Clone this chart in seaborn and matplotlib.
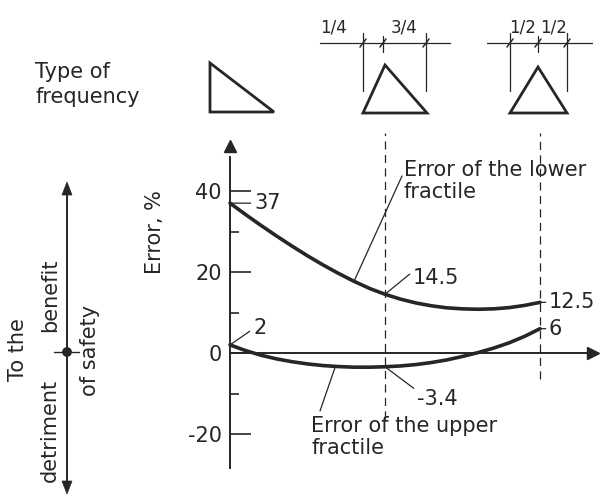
import numpy as np
import pandas as pd
import matplotlib
matplotlib.use("Agg")
import matplotlib.pyplot as plt
import seaborn as sns
from matplotlib.transforms import Affine2D
from matplotlib.patches import Polygon, Circle
from matplotlib.lines import Line2D

# Position of the mode of the frequency distribution (fraction of the base width)
mode_pos = [0.000, 0.025, 0.050, 0.075, 0.100, 0.125, 0.150, 0.175, 0.200, 0.225,
            0.250, 0.275, 0.300, 0.325, 0.350, 0.375, 0.400, 0.425, 0.450, 0.475, 0.500]
# Error of the lower fractile, %
err_lower = [37.0, 34.2, 31.5, 28.9, 26.4, 24.0, 21.75, 19.65, 17.7, 15.95,
             14.5, 13.3, 12.35, 11.65, 11.15, 10.9, 10.8, 10.9, 11.2, 11.75, 12.5]
# Error of the upper fractile, %
err_upper = [2.0, 0.6, -0.55, -1.45, -2.15, -2.7, -3.1, -3.35, -3.5, -3.5,
             -3.4, -3.2, -2.85, -2.35, -1.7, -0.85, 0.1, 1.2, 2.5, 4.1, 6.0]

y_major = [-20, 0, 20, 40]
y_minor = [-10, 10, 30]
marked_x = [0.25, 0.5]

INK = "#262626"
W, H = 601, 496

sns.set_theme(style="white")
plt.rcParams["font.family"] = ["DejaVu Sans"]
plt.rcParams["text.color"] = INK

fig = plt.figure(figsize=(W / 100, H / 100), dpi=100)
ax = fig.add_axes([0, 0, 1, 1])
ax.set_facecolor("white")
# pixel frame (origin top-left) for the annotation sketches around the plot
pix = Affine2D().scale(1 / W, -1 / H).translate(0, 1) + fig.transFigure

ax.set_xlim(-0.371, 0.5984)
ax.set_ylim((353 - H) / 4.05, 353 / 4.05)

df = pd.concat([
    pd.DataFrame({"mode": mode_pos, "error": err_lower, "fractile": "lower"}),
    pd.DataFrame({"mode": mode_pos, "error": err_upper, "fractile": "upper"}),
])
sns.lineplot(data=df, x="mode", y="error", hue="fractile",
             palette=[INK, INK], linewidth=2.6, legend=False, ax=ax,
             solid_capstyle="round", solid_joinstyle="round")
ax.set_xlabel("")

# axes through the origin
for s in ["top", "right"]:
    ax.spines[s].set_visible(False)
ax.spines["left"].set_position(("data", 0))
ax.spines["bottom"].set_position(("data", 0))
ax.spines["left"].set_bounds(-28.5, 48.5)
ax.spines["bottom"].set_bounds(0, 0.58)
for s in ["left", "bottom"]:
    ax.spines[s].set_color(INK)
    ax.spines[s].set_linewidth(1.4)
ax.plot([0], [51.0], marker="^", ms=9, color=INK, clip_on=False)
ax.plot([0.585], [0], marker=">", ms=9, color=INK, clip_on=False)

fs = 15
ax.set_xticks([])
ax.set_yticks(y_major)
ax.set_yticklabels([str(v) for v in y_major])
ax.set_yticks(y_minor, minor=True)
ax.tick_params(axis="y", which="major", direction="in", length=15, width=1.2,
               color=INK, labelsize=fs, labelcolor=INK, pad=6, left=True)
ax.tick_params(axis="y", which="minor", direction="in", length=6.5, width=1.2,
               color=INK, left=True)
ax.set_ylabel("Error, %", fontsize=fs, color=INK)
ax.yaxis.set_label_coords(165, 232, transform=pix)

# dashed guides at the marked distribution shapes
ax.vlines(marked_x[0], -16.3, 54.3, colors=INK, lw=0.9, linestyles=(0, (6.5, 4.3)))
ax.vlines(marked_x[1], -6.3, 54.3, colors=INK, lw=0.9, linestyles=(0, (6.5, 4.3)))

lead = dict(arrowstyle="-", lw=0.9, color=INK, shrinkA=0, shrinkB=0)

# value labels
ax.annotate("37", xy=(mode_pos[0], err_lower[0]), xytext=(24, 0),
            textcoords="offset pixels", ha="left", va="center", fontsize=fs,
            arrowprops=dict(lead, relpos=(0, 0.5)))
ax.annotate("14.5", xy=(mode_pos[10], err_lower[10]), xytext=(28, 16),
            textcoords="offset pixels", ha="left", va="center", fontsize=fs,
            arrowprops=dict(lead, relpos=(-0.05, 0.75)))
ax.annotate("12.5", xy=(mode_pos[-1], err_lower[-1]), xytext=(9, 0),
            textcoords="offset pixels", ha="left", va="center", fontsize=fs,
            arrowprops=dict(lead, relpos=(0, 0.5)))
ax.annotate("2", xy=(mode_pos[0], err_upper[0]), xytext=(23, 17),
            textcoords="offset pixels", ha="left", va="center", fontsize=fs,
            arrowprops=dict(lead, relpos=(-0.1, 0.4)))
ax.annotate("-3.4", xy=(mode_pos[10], err_upper[10]), xytext=(32, -32),
            textcoords="offset pixels", ha="left", va="center", fontsize=fs,
            arrowprops=dict(lead, relpos=(0, 0.9)))
ax.annotate("6", xy=(mode_pos[-1], err_upper[-1]), xytext=(9, 0),
            textcoords="offset pixels", ha="left", va="center", fontsize=fs,
            arrowprops=dict(lead, relpos=(0, 0.5)))

# curve names with leaders
t_lo = 0.20
ax.annotate("", xy=(t_lo, np.interp(t_lo, mode_pos, err_lower)), xytext=(402, 176),
            textcoords=pix, arrowprops=lead)
fig.text(404, 170, "Error of the lower", transform=pix, ha="left", va="center", fontsize=fs)
fig.text(404, 192, "fractile", transform=pix, ha="left", va="center", fontsize=fs)

t_up = 0.17
ax.annotate("", xy=(t_up, np.interp(t_up, mode_pos, err_upper)), xytext=(320, 411),
            textcoords=pix, arrowprops=lead)
fig.text(311, 426, "Error of the upper", transform=pix, ha="left", va="center", fontsize=fs)
fig.text(311, 448, "fractile", transform=pix, ha="left", va="center", fontsize=fs)

# header: type of frequency distribution
fig.text(35, 72, "Type of", transform=pix, ha="left", va="center", fontsize=fs)
fig.text(35, 97, "frequency", transform=pix, ha="left", va="center", fontsize=fs)

def tri(pts):
    fig.add_artist(Polygon(pts, closed=True, fill=False, ec=INK, lw=2.0,
                           joinstyle="miter", transform=pix))

def seg(x0, y0, x1, y1, lw=0.9):
    fig.add_artist(Line2D([x0, x1], [y0, y1], color=INK, lw=lw, transform=pix))

tri([(210, 63), (210, 112), (274, 112)])
tri([(385, 65), (363, 113), (427, 113)])
tri([(538, 67), (510, 113), (567, 113)])

# dimension lines above the triangles
seg(320, 43, 450, 43)
seg(487, 43, 592, 43)
for x in (363, 426, 510, 567):
    seg(x, 33, x, 91)
for x in (383, 538):
    seg(x, 36, x, 52)
for x in (363, 383, 426, 510, 538, 567):
    seg(x - 3, 47, x + 3, 39, lw=1.1)
for x, s in ((334, "1/4"), (404, "3/4"), (523, "1/2"), (554, "1/2")):
    fig.text(x, 28, s, transform=pix, ha="center", va="center", fontsize=12)

# safety direction arrow on the left
seg(67, 190, 67, 486, lw=1.4)
fig.add_artist(Polygon([(67, 182), (62, 195), (72, 195)], closed=True, fc=INK, ec=INK,
                       lw=0.5, transform=pix))
fig.add_artist(Polygon([(67, 494), (62, 481), (72, 481)], closed=True, fc=INK, ec=INK,
                       lw=0.5, transform=pix))
seg(54, 352, 79, 352, lw=1.0)
fig.add_artist(Circle((67, 352), 4.2, fc=INK, ec=INK, transform=pix))

fig.text(18, 350, "To the", transform=pix, rotation=90, ha="center", va="center", fontsize=fs)
fig.text(50, 295, "benefit", transform=pix, rotation=90, ha="center", va="center", fontsize=fs)
fig.text(50, 430, "detriment", transform=pix, rotation=90, ha="center", va="center", fontsize=fs)
fig.text(90, 350, "of safety", transform=pix, rotation=90, ha="center", va="center", fontsize=fs)

fig.savefig("out.png", dpi=100, facecolor="white")
